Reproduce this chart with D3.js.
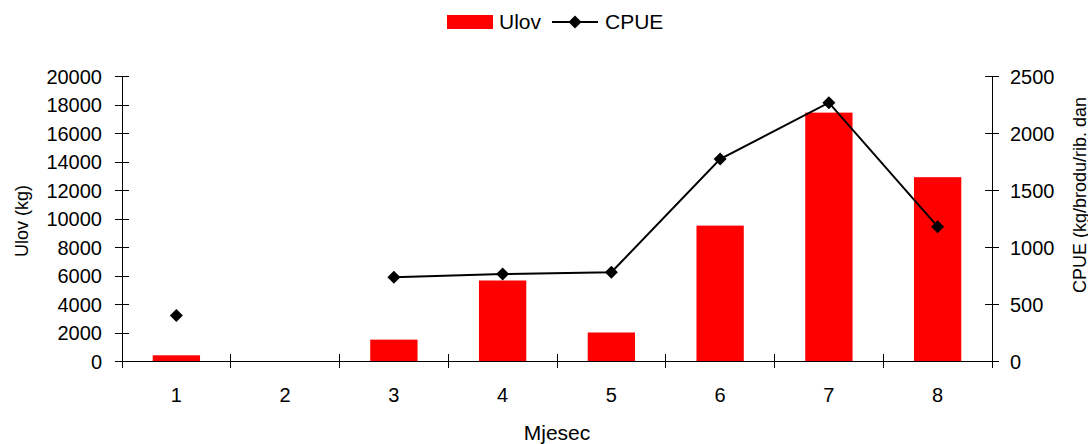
<!DOCTYPE html>
<html lang="hr">
<head>
<meta charset="UTF-8">
<title>Ulov i CPUE</title>
<script src="https://cdn.jsdelivr.net/npm/d3@7"></script>
<style>
    body { margin: 0; background: #fff; }
    text { font-family: "Liberation Sans", Arial, sans-serif; fill: #000; }
    .axis path, .axis line { stroke: #000; shape-rendering: crispEdges; }
</style>
</head>
<body>
<div id="chart"></div>
<script>
    // podaci
    var months = ["1", "2", "3", "4", "5", "6", "7", "8"];
    var ulov = [400, 0, 1500, 5650, 2000, 9500, 17430, 12900];
    var cpue = [400, null, 735, 763, 778, 1772, 2266, 1178];
    var leftTicks = [0, 2000, 4000, 6000, 8000, 10000, 12000, 14000, 16000, 18000, 20000];
    var rightTicks = [0, 500, 1000, 1500, 2000, 2500];

    var width = 1088, height = 444;
    var pLeft = 122, pRight = 992, pTop = 76, pBottom = 361;

    var svg = d3.select("#chart").append("svg")
        .attr("width", width)
        .attr("height", height);

    var x = d3.scaleBand().domain(months).range([pLeft, pRight]).paddingInner(0.565).paddingOuter(0.2825);
    var xb = d3.scaleBand().domain(months).range([pLeft, pRight]);
    var yL = d3.scaleLinear().domain([0, 20000]).range([pBottom, pTop]);
    var yR = d3.scaleLinear().domain([0, 2500]).range([pBottom, pTop]);

    // stupci
    svg.append("g").selectAll("rect")
        .data(ulov)
        .enter()
        .append("rect")
        .attr("x", function (d, i) { return x(months[i]); })
        .attr("width", x.bandwidth())
        .attr("y", function (d) { return yL(d); })
        .attr("height", function (d) { return pBottom - yL(d); })
        .style("fill", "#ff0000");

    // osi
    var gL = svg.append("g").attr("class", "axis")
        .attr("transform", "translate(" + pLeft + ",0)")
        .call(d3.axisLeft(yL).tickValues(leftTicks).tickFormat(d3.format("d")).tickSize(7).tickSizeOuter(0));
    gL.selectAll(".tick line").attr("x2", -7).attr("x1", 7);
    gL.selectAll("text").style("font-size", "20px").attr("x", -20).attr("dy", "0.36em");

    var gR = svg.append("g").attr("class", "axis")
        .attr("transform", "translate(" + pRight + ",0)")
        .call(d3.axisRight(yR).tickValues(rightTicks).tickFormat(d3.format("d")).tickSize(7).tickSizeOuter(0));
    gR.selectAll(".tick line").attr("x1", -7).attr("x2", 7);
    gR.selectAll("text").style("font-size", "20px").attr("x", 18).attr("dy", "0.36em");

    var gX = svg.append("g").attr("class", "axis")
        .attr("transform", "translate(0," + pBottom + ")");
    gX.append("line").attr("x1", pLeft).attr("x2", pRight).attr("y1", 0).attr("y2", 0);
    var edges = months.map(function (m) { return xb(m); }).concat([pRight]);
    gX.selectAll(".tk").data(edges).enter().append("line")
        .attr("x1", function (d) { return d; }).attr("x2", function (d) { return d; })
        .attr("y1", -7).attr("y2", 7);
    gX.selectAll(".lbl").data(months).enter().append("text")
        .attr("x", function (d) { return xb(d) + xb.bandwidth() / 2; })
        .attr("y", 41)
        .attr("text-anchor", "middle")
        .style("font-size", "20px")
        .text(function (d) { return d; });

    // CPUE linija
    var pts = cpue.map(function (v, i) { return { m: months[i], v: v }; });
    var line = d3.line()
        .defined(function (d) { return d.v !== null; })
        .x(function (d) { return xb(d.m) + xb.bandwidth() / 2; })
        .y(function (d) { return yR(d.v); });
    svg.append("path")
        .attr("d", line(pts))
        .style("fill", "none")
        .style("stroke", "#000")
        .style("stroke-width", 2);

    var diamond = "M0,-6.5L6.5,0L0,6.5L-6.5,0Z";
    svg.append("g").selectAll("path")
        .data(pts.filter(function (d) { return d.v !== null; }))
        .enter()
        .append("path")
        .attr("d", diamond)
        .attr("transform", function (d) {
            return "translate(" + (xb(d.m) + xb.bandwidth() / 2) + "," + yR(d.v) + ")";
        })
        .style("fill", "#000");

    // naslovi osi
    svg.append("text")
        .attr("transform", "translate(28,221) rotate(-90)")
        .attr("text-anchor", "middle")
        .style("font-size", "18px")
        .text("Ulov (kg)");
    svg.append("text")
        .attr("transform", "translate(1086,293) rotate(-90)")
        .attr("text-anchor", "start")
        .style("font-size", "18px")
        .text("CPUE (kg/brodu/rib. dan");
    svg.append("text")
        .attr("x", 557).attr("y", 440)
        .attr("text-anchor", "middle")
        .style("font-size", "21px")
        .text("Mjesec");

    // legenda
    var lg = svg.append("g");
    lg.append("rect").attr("x", 447).attr("y", 15).attr("width", 46).attr("height", 14).style("fill", "#ff0000");
    lg.append("text").attr("x", 499).attr("y", 29).style("font-size", "21px").text("Ulov");
    lg.append("line").attr("x1", 552).attr("x2", 598).attr("y1", 22).attr("y2", 22)
        .style("stroke", "#000").style("stroke-width", 2);
    lg.append("path").attr("d", diamond).attr("transform", "translate(575,22)").style("fill", "#000");
    lg.append("text").attr("x", 605).attr("y", 29).style("font-size", "21px").text("CPUE");
</script>
</body>
</html>
